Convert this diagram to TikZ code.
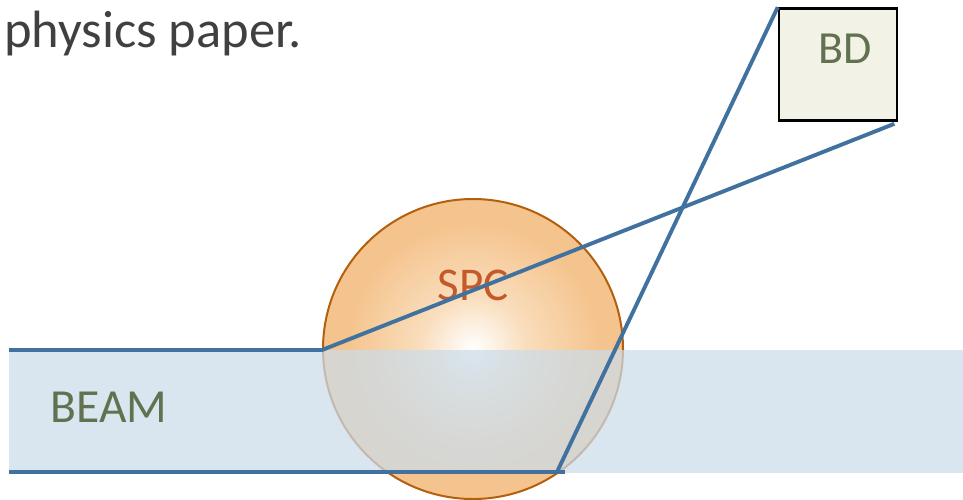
\documentclass[tikz,border=0pt]{standalone}
\usepackage{fontspec}
\setmainfont{Carlito}
\usepackage{tikz}
\usetikzlibrary{positioning,calc}
\definecolor{raycol}{HTML}{41729F}
\definecolor{beamcol}{RGB}{203,220,234}
\definecolor{spcedge}{HTML}{B3600C}
\definecolor{spcouter}{HTML}{F5C48E}
\definecolor{spcmid}{HTML}{F9DDBB}
\definecolor{spctext}{HTML}{C45A2A}
\definecolor{tagcol}{HTML}{627250}
\definecolor{bdfill}{HTML}{F2F2E7}
\definecolor{headcol}{HTML}{404040}
\pgfdeclareradialshading{spcglow}{\pgfpoint{0bp}{0bp}}{%
  color(0bp)=(white); color(9bp)=(spcmid); color(21bp)=(spcouter);
  color(25bp)=(spcouter); color(50bp)=(spcouter)}
\tikzset{
  raypath/.style={draw=raycol, line width=3.9pt},
  beamband/.style={fill=beamcol, fill opacity=0.72, draw=none},
  spcball/.style={draw=spcedge, line width=2pt, shading=spcglow},
  bdbox/.style={draw=black, fill=bdfill, line width=2.6pt,
    minimum width=118pt, minimum height=112pt, inner sep=0pt},
  tagtext/.style={text=tagcol, font=\fontsize{46}{50}\selectfont, inner sep=0pt}
}

\begin{document}
\begin{tikzpicture}[x=1pt,y=-1pt]
  \useasboundingbox (0,0) rectangle (963,499);
  % scatter chamber
  \shade[spcball] (473,349) circle (150);
  \node[tagtext, text=spctext, font=\fontsize{47}{50}\selectfont] (spc) at (473,285) {SPC};
  % beam band over it
  \fill[beamband] (9,350) rectangle (963,473);
  \node[tagtext, font=\fontsize{47.5}{50}\selectfont] (beam) at (109,407) {BEAM};
  % detector
  \node[bdbox] (bd) at (838,64.5) {};
  \node[tagtext] (bdtext) at ($(bd.center)+(7,-16)$) {BD};
  \node[anchor=base west, inner sep=0pt, text=headcol,
    font=\fontsize{52.5}{56}\selectfont] (head) at (4,47) {physics paper.};
  % rays
  \coordinate (topin) at (9,350);
  \coordinate (spcin) at (322,350);
  \coordinate (botin) at (9,472);
  \coordinate (botend) at (565,472);
  \coordinate (kink) at (557,472);
  \draw[raypath] (topin) -- (spcin) -- ($(bd.south east)+(-4,2)$);
  \draw[raypath] (botin) -- (botend);
  \draw[raypath] (kink) -- (bd.north west);
\end{tikzpicture}
\end{document}
